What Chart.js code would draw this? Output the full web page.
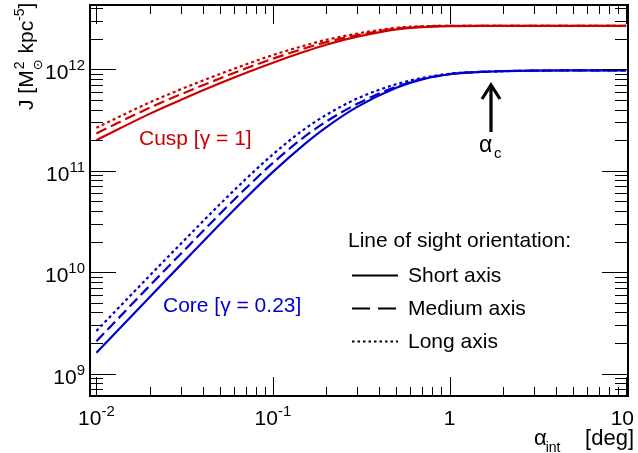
<!DOCTYPE html>
<html><head><meta charset="utf-8">
<script src="https://cdn.jsdelivr.net/npm/chart.js@4"></script>
<style>html,body{margin:0;padding:0;background:#fff;} canvas{display:block;}</style>
</head><body>
<canvas id="c" width="638" height="453"></canvas>
<script>
// ---- data ----
const alphaInt = [0.01,0.02,0.03,0.05,0.07,0.1,0.15,0.2,0.3,0.5,0.7,1,1.5,2,3,5,7,10];
const cuspShort  = [2.0e11,3.63e11,4.98e11,7.26e11,9.19e11,1.161e12,1.486e12,1.746e12,2.094e12,2.477e12,2.606e12,2.661e12,2.679e12,2.68e12,2.68e12,2.68e12,2.68e12,2.68e12];
const cuspMedium = [2.33e11,4.17e11,5.65e11,8.11e11,1.017e12,1.272e12,1.599e12,1.849e12,2.167e12,2.517e12,2.63e12,2.68e12,2.684e12,2.68e12,2.68e12,2.68e12,2.68e12,2.68e12];
const cuspLong   = [2.65e11,4.70e11,6.33e11,8.97e11,1.113e12,1.380e12,1.706e12,1.950e12,2.245e12,2.564e12,2.655e12,2.685e12,2.685e12,2.68e12,2.68e12,2.68e12,2.68e12,2.68e12];
const coreShort  = [1.60e9,5.65e9,1.178e10,2.958e10,5.35e10,9.73e10,1.807e11,2.673e11,4.256e11,6.577e11,7.943e11,8.93e11,9.419e11,9.572e11,9.683e11,9.727e11,9.727e11,9.727e11];
const coreMedium = [2.08e9,7.31e9,1.51e10,3.74e10,6.67e10,1.192e11,2.143e11,3.042e11,4.562e11,6.728e11,8.015e11,8.95e11,9.419e11,9.572e11,9.683e11,9.727e11,9.727e11,9.727e11];
const coreLong   = [2.63e9,9.20e9,1.893e10,4.656e10,8.23e10,1.449e11,2.553e11,3.539e11,5.141e11,7.13e11,8.205e11,9.037e11,9.438e11,9.572e11,9.683e11,9.727e11,9.727e11,9.727e11];

const xTickValues = [0.01, 0.1, 1, 10];
const xTickLabels = [["10","-2"],["10","-1"],["1",""],["10",""]];
const yTickValues = [1e9, 1e10, 1e11, 1e12];
const yTickLabels = [["10","9"],["10","10"],["10","11"],["10","12"]];
const legendTitle = "Line of sight orientation:";
const legendLabels = ["Short axis","Medium axis","Long axis"];

const RED = "#cc0000", BLUE = "#0000cc";
const FONT = '"Liberation Sans", Arial, Helvetica, sans-serif';
const f = px => px + "px " + FONT;
const DASH = { short: [], medium: [11,5], long: [3,3] };

function mk(xs, ys){ return xs.map((x,i)=>({x:x, y:ys[i]})); }
function ds(label, ys, color, dash){
  return { label, data: mk(alphaInt, ys), borderColor: color, borderWidth: 2.2,
           borderDash: dash, borderCapStyle: 'butt', pointRadius: 0, fill: false,
           cubicInterpolationMode: 'monotone' };
}

function line(ctx,x1,y1,x2,y2){ ctx.beginPath(); ctx.moveTo(x1,y1); ctx.lineTo(x2,y2); ctx.stroke(); }

function drawSup(ctx, base, sup, x, y, align, baseSize, supSize, supRise){
  ctx.font = f(baseSize); const wb = ctx.measureText(base).width;
  ctx.font = f(supSize); const ws = sup ? ctx.measureText(sup).width : 0;
  const w = wb + ws;
  let x0 = align === 'right' ? x - w : (align === 'center' ? x - w/2 : x);
  if (x0 + w > 634) x0 = 634 - w;
  ctx.textAlign = 'left'; ctx.textBaseline = 'alphabetic';
  ctx.font = f(baseSize); ctx.fillText(base, x0, y);
  if (sup){ ctx.font = f(supSize); ctx.fillText(sup, x0 + wb, y - supRise); }
}

const decor = {
  id: 'decor',
  afterDraw(chart){
    const ctx = chart.ctx, a = chart.chartArea, xs = chart.scales.x, ys = chart.scales.y;
    ctx.save();
    ctx.strokeStyle = '#000'; ctx.fillStyle = '#000'; ctx.lineWidth = 1;
    // x ticks (bottom & top, inward)
    for (let d = -3; d <= 1; d++) for (let m = 1; m <= 9; m++){
      const v = m * Math.pow(10, d);
      if (v < xs.min || v > xs.max) continue;
      const px = Math.round(xs.getPixelForValue(v)) + 0.5;
      const len = m === 1 ? 19 : 9;
      line(ctx, px, a.bottom, px, a.bottom - len);
      line(ctx, px, a.top, px, a.top + len);
    }
    // y ticks (left & right, inward)
    for (let d = 8; d <= 12; d++) for (let m = 1; m <= 9; m++){
      const v = m * Math.pow(10, d);
      if (v < ys.min || v > ys.max) continue;
      const py = Math.round(ys.getPixelForValue(v)) + 0.5;
      const len = m === 1 ? 26 : 13;
      line(ctx, a.left, py, a.left + len, py);
      line(ctx, a.right, py, a.right - len, py);
    }
    // frame
    ctx.lineWidth = 2;
    ctx.strokeRect(a.left, a.top, a.right - a.left, a.bottom - a.top);

    // tick labels
    xTickValues.forEach((v,i)=>{
      const px = xs.getPixelForValue(v);
      drawSup(ctx, xTickLabels[i][0], xTickLabels[i][1], px, a.bottom + 29, 'center', 21, 15, 9);
    });
    yTickValues.forEach((v,i)=>{
      const py = ys.getPixelForValue(v);
      drawSup(ctx, yTickLabels[i][0], yTickLabels[i][1], 85, py + 10, 'right', 21, 15, 9);
    });

    // x axis title: alpha_int [deg]
    ctx.textAlign = 'left'; ctx.textBaseline = 'alphabetic';
    ctx.font = f(22); const wDeg = ctx.measureText("[deg]").width;
    ctx.fillText("[deg]", 634 - wDeg, 445);
    ctx.fillText("\u03B1", 534, 445);
    const wa = ctx.measureText("\u03B1").width;
    ctx.font = f(14); ctx.fillText("int", 534 + wa - 1, 452);

    // y axis title (rotated)
    ctx.save();
    ctx.translate(33, 110); ctx.rotate(-Math.PI/2);
    let x = 0;
    ctx.font = f(21); ctx.fillText("J [M", x, 0); x += ctx.measureText("J [M").width;
    ctx.font = f(14); ctx.fillText("2", x + 1, -9);
    ctx.font = '13px "DejaVu Sans", sans-serif'; ctx.fillText("\u2299", x, 9);
    x += 11;
    ctx.font = f(21); ctx.fillText(" kpc", x, 0); x += ctx.measureText(" kpc").width;
    ctx.font = f(14); ctx.fillText("-5", x, -9); x += ctx.measureText("-5").width;
    ctx.font = f(21); ctx.fillText("]", x, 0);
    ctx.restore();

    // curve labels
    ctx.font = f(21);
    ctx.fillStyle = RED; ctx.fillText("Cusp [\u03B3 = 1]", 139, 145);
    ctx.fillStyle = BLUE; ctx.fillText("Core [\u03B3 = 0.23]", 163, 312);

    // alpha_c arrow
    ctx.fillStyle = '#000'; ctx.strokeStyle = '#000';
    ctx.lineWidth = 3.2; ctx.lineCap = 'butt';
    line(ctx, 491, 132, 491, 86);
    ctx.beginPath(); ctx.moveTo(482, 99); ctx.lineTo(491, 85); ctx.lineTo(500, 99); ctx.stroke();
    ctx.font = f(23); ctx.fillText("\u03B1", 479, 152);
    ctx.font = f(15); ctx.fillText("c", 494, 158);

    // legend
    ctx.font = f(21);
    ctx.fillText(legendTitle, 348, 247);
    const legDash = [[], [18,8], [2.5,3]];
    legendLabels.forEach((lab,i)=>{
      const yl = 275.5 + i*33;
      ctx.lineWidth = 2; ctx.setLineDash(legDash[i]);
      line(ctx, 352, yl, 398, yl);
      ctx.setLineDash([]);
      ctx.fillText(lab, 408, 282 + i*33);
    });
    ctx.restore();
  }
};

new Chart(document.getElementById('c'), {
  type: 'line',
  data: {
    datasets: [
      ds('Cusp short', cuspShort, RED, DASH.short),
      ds('Cusp medium', cuspMedium, RED, DASH.medium),
      ds('Cusp long', cuspLong, RED, DASH.long),
      ds('Core short', coreShort, BLUE, DASH.short),
      ds('Core medium', coreMedium, BLUE, DASH.medium),
      ds('Core long', coreLong, BLUE, DASH.long)
    ]
  },
  options: {
    responsive: false, animation: false,
    layout: { padding: { left: 90, right: 10, top: 5, bottom: 57 } },
    plugins: { legend: { display: false }, tooltip: { enabled: false } },
    scales: {
      x: { type: 'logarithmic', display: false, bounds: 'data', min: 0.0092, max: 10.25 },
      y: { type: 'logarithmic', display: false, bounds: 'data', min: 6.0e8, max: 4.3e12 }
    }
  },
  plugins: [decor]
});
</script>
</body></html>
